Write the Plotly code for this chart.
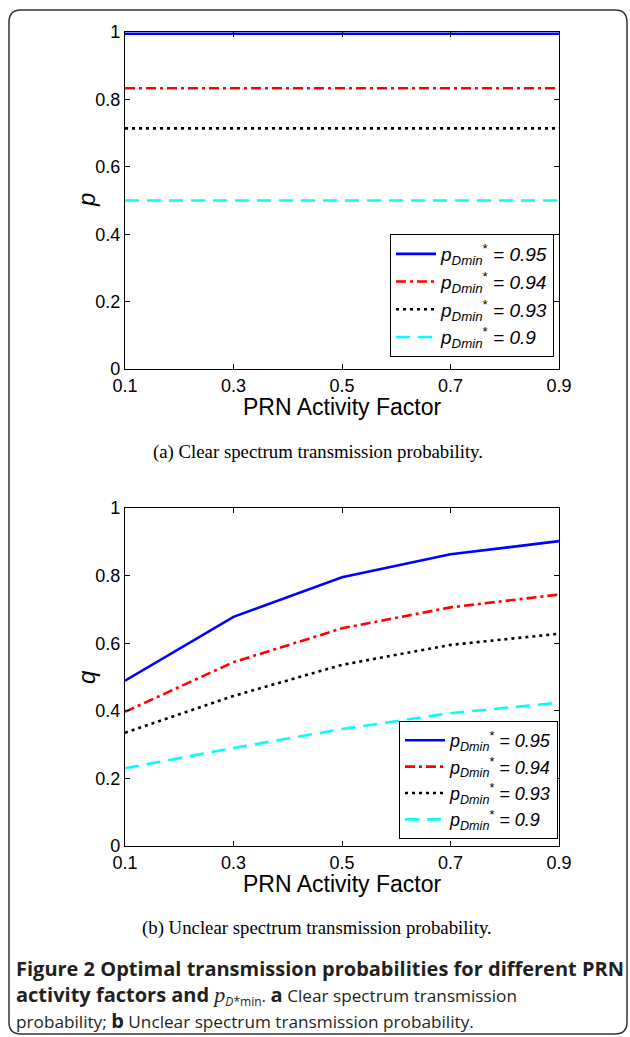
import plotly.graph_objects as go

W, H = 630, 1037

# PRN activity factor values on the x axis
activity = [0.1, 0.3, 0.5, 0.7, 0.9]
x_ticks = [0.1, 0.3, 0.5, 0.7, 0.9]
y_ticks = [0, 0.2, 0.4, 0.6, 0.8, 1.0]
y_tick_text = ["0", "0.2", "0.4", "0.6", "0.8", "1"]

# target detection probabilities (legend entries)
p_dmin = ["0.95", "0.94", "0.93", "0.9"]

# (a) clear spectrum transmission probability p
p_095 = [0.995, 0.995, 0.995, 0.995, 0.995]
p_094 = [0.833, 0.833, 0.833, 0.833, 0.833]
p_093 = [0.714, 0.714, 0.714, 0.714, 0.714]
p_090 = [0.5, 0.5, 0.5, 0.5, 0.5]

# (b) unclear spectrum transmission probability q
q_095 = [0.489, 0.678, 0.795, 0.863, 0.902]
q_094 = [0.397, 0.544, 0.644, 0.706, 0.744]
q_093 = [0.335, 0.444, 0.536, 0.595, 0.628]
q_090 = [0.230, 0.290, 0.346, 0.393, 0.424]

colors = ["#0000ff", "#ff0000", "#000000", "#00ffff"]
dashes = ["solid", "10px,4px,3px,4px", "3px,4px", "14px,8px"]

SANS = "Liberation Sans, Arial, sans-serif"
SERIF = "Liberation Serif, Times New Roman, serif"
CAP = "Open Sans, Noto Sans, sans-serif"


def px_x(px):
    return px / W


def px_y(py):
    return 1 - py / H


def legend_label(v):
    return "<i>p</i><sub><i>Dmin</i></sub><sup>*</sup><i> = " + v + "</i>"


fig = go.Figure()

for series, col, dash, v in zip([p_095, p_094, p_093, p_090], colors, dashes, p_dmin):
    fig.add_trace(go.Scatter(
        x=activity, y=series, mode="lines", name=legend_label(v),
        line=dict(color=col, width=2.6, dash=dash),
        xaxis="x", yaxis="y", legend="legend"))

for series, col, dash, v in zip([q_095, q_094, q_093, q_090], colors, dashes, p_dmin):
    fig.add_trace(go.Scatter(
        x=activity, y=series, mode="lines", name=legend_label(v),
        line=dict(color=col, width=2.6, dash=dash),
        xaxis="x2", yaxis="y2", legend="legend2"))

axis_common = dict(
    showgrid=False, zeroline=False, showline=True, linecolor="black",
    linewidth=1.3, mirror="ticks", ticks="inside", ticklen=5,
    tickcolor="black", tickwidth=1, automargin=False,
    tickfont=dict(family=SANS, size=18, color="black"),
)

top_dom = [px_y(369), px_y(32)]
bot_dom = [px_y(846), px_y(508)]
x_dom = [px_x(125), px_x(559)]

fig.update_layout(
    width=W, height=H,
    margin=dict(l=0, r=0, t=0, b=0, pad=0, autoexpand=False),
    paper_bgcolor="white", plot_bgcolor="white",
    xaxis=dict(domain=x_dom, anchor="y", range=[0.1, 0.9],
               tickvals=x_ticks, ticktext=[str(t) for t in x_ticks],
               **axis_common),
    yaxis=dict(domain=top_dom, anchor="x", range=[0, 1],
               tickvals=y_ticks, ticktext=y_tick_text, **axis_common),
    xaxis2=dict(domain=x_dom, anchor="y2", range=[0.1, 0.9],
                tickvals=x_ticks, ticktext=[str(t) for t in x_ticks],
                **axis_common),
    yaxis2=dict(domain=bot_dom, anchor="x2", range=[0, 1],
                tickvals=y_ticks, ticktext=y_tick_text, **axis_common),
    legend=dict(x=px_x(390), y=px_y(234), xanchor="left", yanchor="top",
                bgcolor="white", bordercolor="black", borderwidth=1,
                font=dict(family=SANS, size=19, color="black"),
                tracegroupgap=0, itemwidth=40),
    legend2=dict(x=px_x(399), y=px_y(721), xanchor="left", yanchor="top",
                 bgcolor="white", bordercolor="black", borderwidth=1,
                 font=dict(family=SANS, size=18, color="black"),
                 tracegroupgap=0, itemwidth=40),
    showlegend=True,
)

ann = []
# axis titles
ann.append(dict(text="<i>p</i>", x=px_x(86), y=px_y(200), textangle=-90,
                font=dict(family=SANS, size=24, color="black")))
ann.append(dict(text="<i>q</i>", x=px_x(86), y=px_y(677), textangle=-90,
                font=dict(family=SANS, size=24, color="black")))
ann.append(dict(text="PRN Activity Factor", x=px_x(342), y=px_y(407),
                font=dict(family=SANS, size=23, color="black")))
ann.append(dict(text="PRN Activity Factor", x=px_x(342), y=px_y(884),
                font=dict(family=SANS, size=23, color="black")))
# sub-figure captions
ann.append(dict(text="(a) Clear spectrum transmission probability.",
                x=px_x(318), y=px_y(452),
                font=dict(family=SERIF, size=18.8, color="black")))
ann.append(dict(text="(b) Unclear spectrum transmission probability.",
                x=px_x(317), y=px_y(928),
                font=dict(family=SERIF, size=18.8, color="black")))
# figure caption
cap_col = "#231f20"
B = "<span style='font-size:20px'><b>{}</b></span>"
cap_lines = [
    (968, B.format("Figure 2 Optimal transmission probabilities for different PRN")),
    (995, B.format("activity factors and ")
          + "<span style='font-family:Liberation Serif;font-size:22px'><i>p</i></span>"
          "<sub><i>D</i>*min</sub>. " + B.format("a") + " Clear spectrum transmission"),
    (1020, "probability; " + B.format("b") + " Unclear spectrum transmission probability."),
]
for y, t in cap_lines:
    ann.append(dict(text=t, x=px_x(14), y=px_y(y), xanchor="left",
                    font=dict(family=CAP, size=17.2, color=cap_col)))

for a in ann:
    a.setdefault("xanchor", "center")
    a.update(xref="paper", yref="paper", showarrow=False, yanchor="middle")
fig.update_layout(annotations=ann)

# rounded frame around the whole figure
l, t, r, b, rad = px_x(9), px_y(10), px_x(627), px_y(1034), 12
rx, ry = rad / W, rad / H
path = (f"M {l+rx},{t} L {r-rx},{t} Q {r},{t} {r},{t-ry} "
        f"L {r},{b+ry} Q {r},{b} {r-rx},{b} "
        f"L {l+rx},{b} Q {l},{b} {l},{b+ry} "
        f"L {l},{t-ry} Q {l},{t} {l+rx},{t} Z")
fig.add_shape(type="path", path=path, xref="paper", yref="paper",
              line=dict(color="#333333", width=1.5), layer="below")

fig.write_html("out.html")
